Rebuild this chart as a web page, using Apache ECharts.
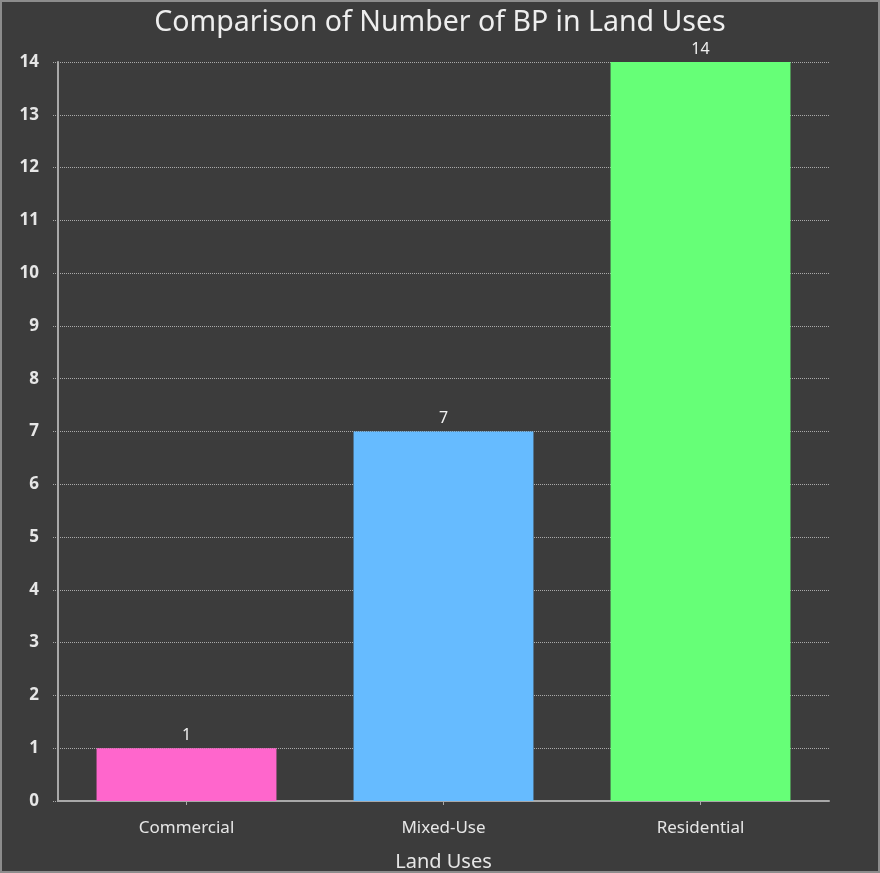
<!DOCTYPE html>
<html>
<head>
<meta charset="utf-8">
<script src="https://cdn.jsdelivr.net/npm/echarts@6/dist/echarts.min.js"></script>
<style>
  html, body { margin: 0; padding: 0; background: #3c3c3c; }
  #frame { box-sizing: border-box; width: 880px; height: 873px; border: 2px solid #8c8c8c; background: #3c3c3c; }
  #chart { width: 876px; height: 869px; }
</style>
</head>
<body>
<div id="frame"><div id="chart"></div></div>
<script>
// Building permits per land use
const categories = ['Commercial', 'Mixed-Use', 'Residential'];
const counts = [1, 7, 14];
const barColors = ['#ff66cc', '#66bbff', '#66ff77'];
const yTicks = { min: 0, max: 14, interval: 1 };

const chart = echarts.init(document.getElementById('chart'), null, { renderer: 'canvas' });
const font = '"Noto Sans", "Open Sans", sans-serif';

chart.setOption({
  backgroundColor: '#3c3c3c',
  animation: false,
  textStyle: { fontFamily: font },
  title: {
    text: 'Comparison of Number of BP in Land Uses',
    left: 'center',
    top: 1,
    textStyle: { color: '#eeeeee', fontSize: 28.5, fontWeight: 'normal', fontFamily: font }
  },
  grid: { left: 56, right: 49, top: 60, bottom: 70, outerBoundsMode: 'none', containLabel: false },
  xAxis: {
    type: 'category',
    data: categories,
    name: 'Land Uses',
    nameLocation: 'middle',
    nameGap: 51,
    nameTextStyle: { color: '#e6e6e6', fontSize: 20, fontFamily: font },
    axisLine: { lineStyle: { color: '#a8a8a8', width: 2 } },
    axisTick: { show: true, alignWithLabel: true, length: 4, lineStyle: { color: '#a8a8a8' } },
    axisLabel: { color: '#e6e6e6', fontSize: 17, margin: 19, fontFamily: font },
    splitLine: { show: false }
  },
  yAxis: {
    type: 'value',
    min: yTicks.min,
    max: yTicks.max,
    interval: yTicks.interval,
    axisLine: { show: true, lineStyle: { color: '#a8a8a8', width: 2 } },
    axisTick: { show: true, length: 6, lineStyle: { color: '#aaaaaa', type: 'dotted' } },
    axisLabel: { color: '#e6e6e6', fontSize: 17, fontWeight: 'bold', margin: 19, fontFamily: font },
    splitLine: { show: true, lineStyle: { color: '#aaaaaa', type: 'dotted', width: 1 } }
  },
  series: [{
    type: 'bar',
    barWidth: '70%',
    data: counts.map((v, i) => ({ value: v, itemStyle: { color: barColors[i] } })),
    label: { show: true, position: 'top', color: '#f0f0f0', fontSize: 16, distance: 5, fontFamily: font }
  }]
});
</script>
</body>
</html>
